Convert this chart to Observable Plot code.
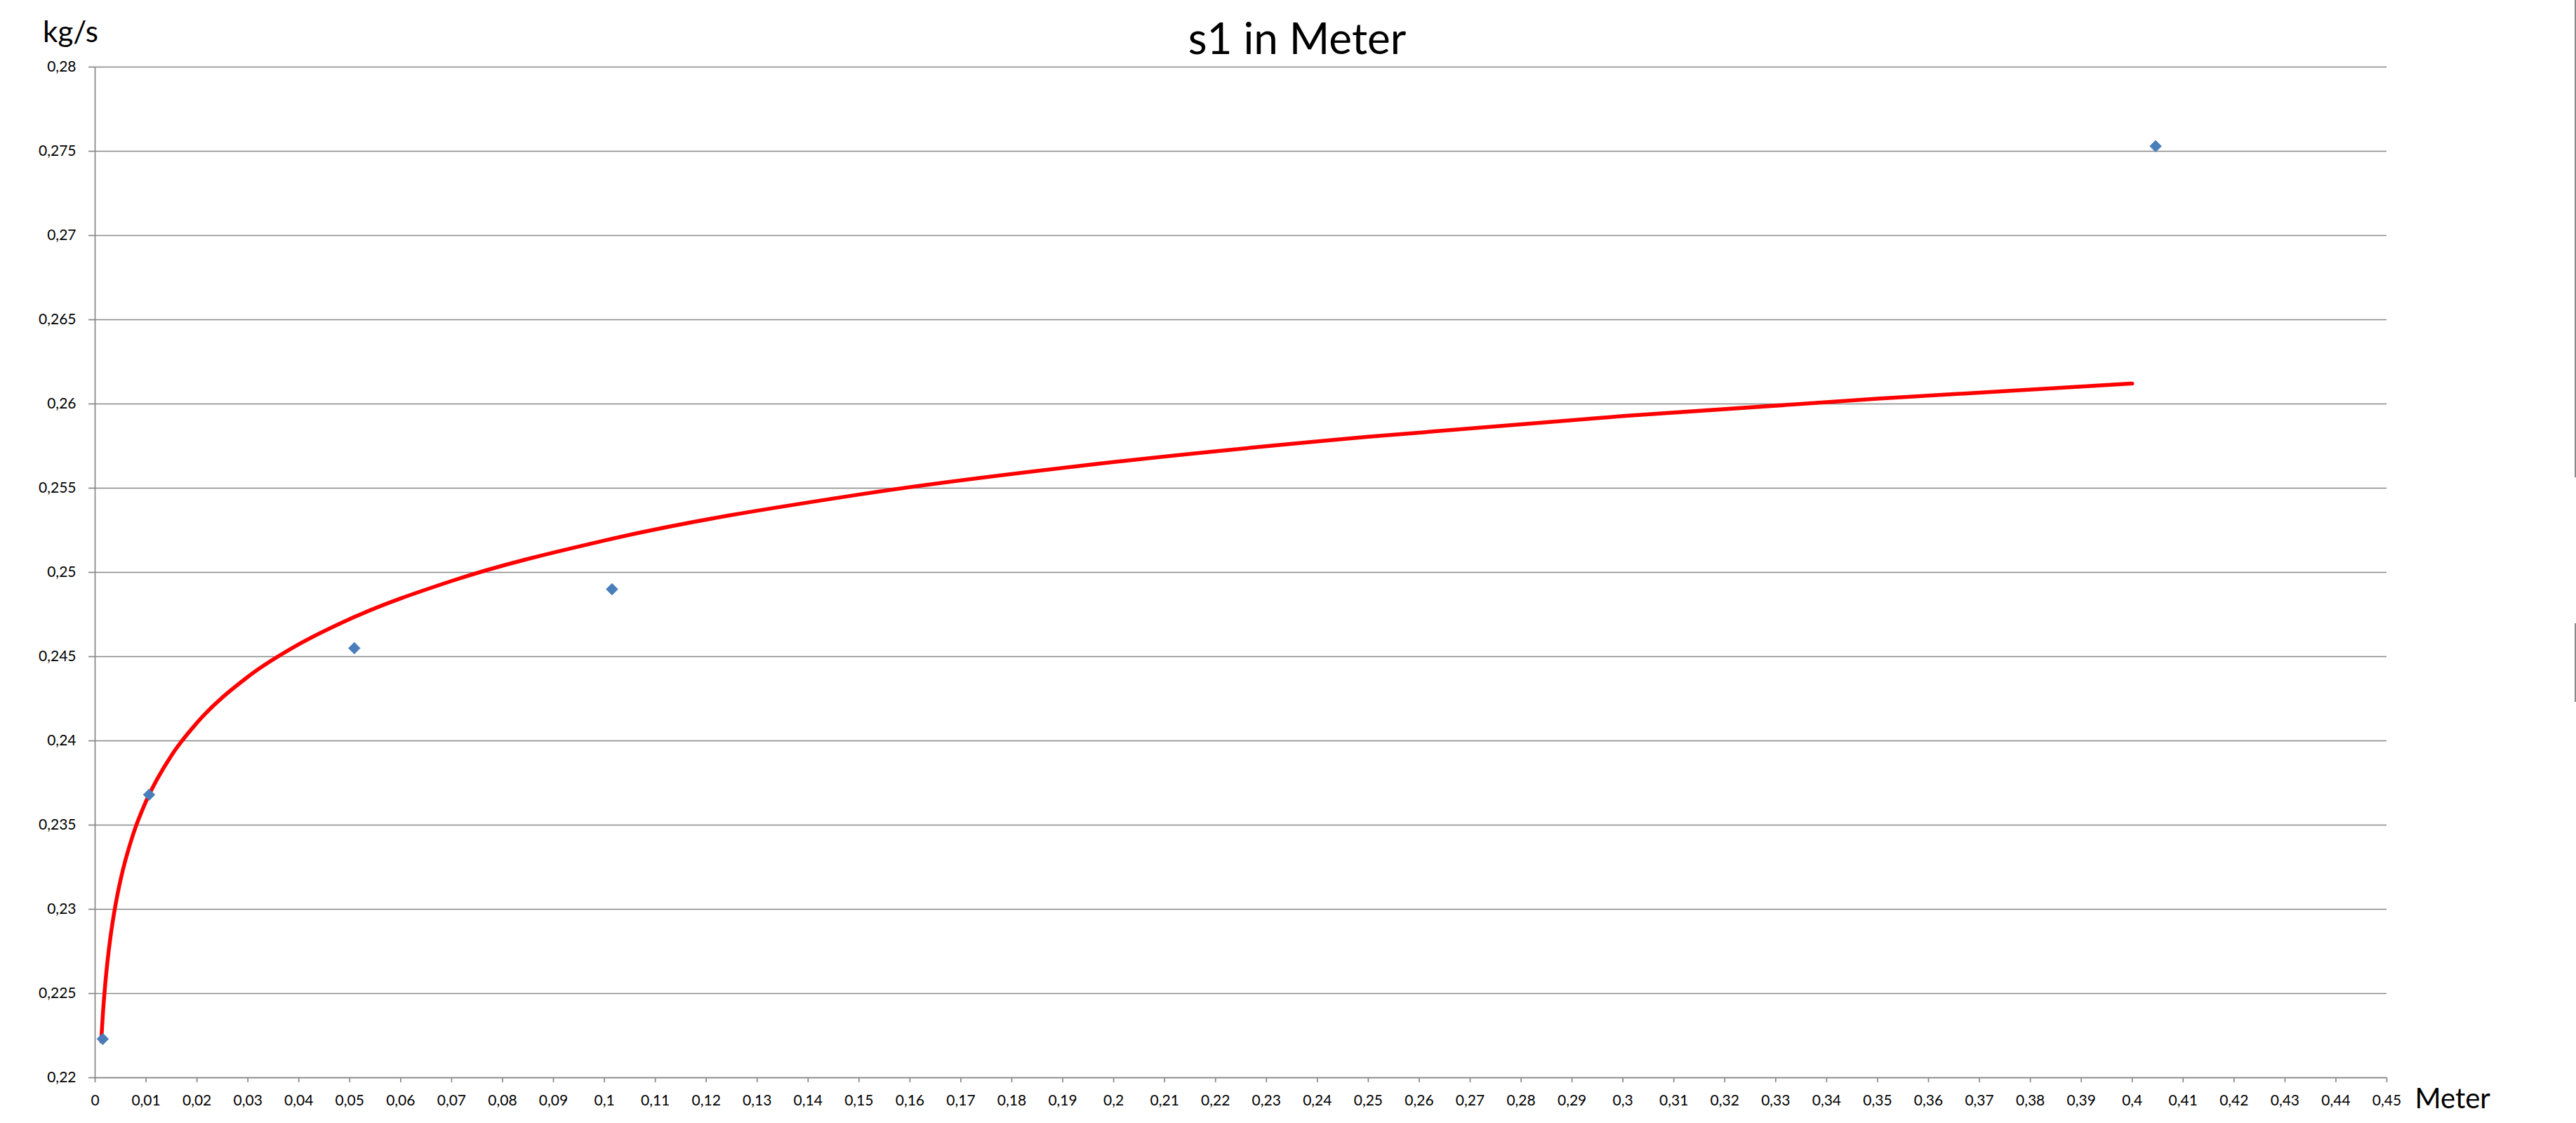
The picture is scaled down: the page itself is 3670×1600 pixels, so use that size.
<!DOCTYPE html>
<html>
<head>
<meta charset="utf-8">
<script src="https://cdn.jsdelivr.net/npm/d3@7"></script>
<script src="https://cdn.jsdelivr.net/npm/@observablehq/plot@0.6"></script>
<style>
  html, body { margin: 0; padding: 0; background: #ffffff; overflow: hidden; }
  #wrap { position: relative; width: 3670px; height: 1600px; }
  .edge { position: absolute; left: 3668px; width: 2px; background: #8a8a8a; }
</style>
</head>
<body>
<div id="wrap">
  <div id="chart"></div>
  <div class="edge" style="top:0px;height:680px"></div>
  <div class="edge" style="top:888px;height:112px"></div>
</div>
<script>
// ---- Data ----
const title = "s1 in Meter";
const yLabel = "kg/s";
const xLabel = "Meter";

// measured points (blue diamonds)
const pointX = [0.0015, 0.0106, 0.0509, 0.1015, 0.4046];
const pointY = [0.2223, 0.2368, 0.2455, 0.2490, 0.2753];

// red trend curve
const trendX = [0.0012, 0.0015, 0.002, 0.0025, 0.003, 0.004, 0.005, 0.0075, 0.01, 0.015, 0.02, 0.03, 0.04, 0.05, 0.07, 0.1, 0.15, 0.2, 0.25, 0.3, 0.35, 0.4];
const trendY = [0.22216, 0.22366, 0.22559, 0.22709, 0.22832, 0.23025, 0.23175, 0.23448, 0.23641, 0.23914, 0.24107, 0.24380, 0.24573, 0.24723, 0.24949, 0.25189, 0.25462, 0.25655, 0.25805, 0.25928, 0.26031, 0.26121];

// tick values
const xTicks = [0, 0.01, 0.02, 0.03, 0.04, 0.05, 0.06, 0.07, 0.08, 0.09, 0.1, 0.11, 0.12, 0.13, 0.14, 0.15, 0.16, 0.17, 0.18, 0.19, 0.2, 0.21, 0.22, 0.23, 0.24, 0.25, 0.26, 0.27, 0.28, 0.29, 0.3, 0.31, 0.32, 0.33, 0.34, 0.35, 0.36, 0.37, 0.38, 0.39, 0.4, 0.41, 0.42, 0.43, 0.44, 0.45];
const yTicks = [0.22, 0.225, 0.23, 0.235, 0.24, 0.245, 0.25, 0.255, 0.26, 0.265, 0.27, 0.275, 0.28];

// ---- Build ----
const points = pointX.map((x, i) => ({x, y: pointY[i]}));
const trend = trendX.map((x, i) => ({x, y: trendY[i]}));
const fmt = (d, n) => String(+d.toFixed(n)).replace(".", ",");
const gridColor = "#878787";

const chart = Plot.plot({
  width: 3670,
  height: 1600,
  marginLeft: 135,
  marginRight: 270,
  marginTop: 95,
  marginBottom: 65,
  style: {fontFamily: "Lato, 'Open Sans', sans-serif", background: "#ffffff", color: "#000000"},
  x: {domain: [0, 0.45]},
  y: {domain: [0.22, 0.28]},
  marks: [
    Plot.gridY(yTicks, {stroke: gridColor, strokeOpacity: 1, strokeWidth: 1.7}),
    Plot.ruleX([0], {stroke: gridColor, strokeWidth: 1.7}),
    Plot.ruleY([0.22], {stroke: gridColor, strokeWidth: 1.7}),
    Plot.axisY(yTicks, {
      tickSize: 9, tickPadding: 18, stroke: gridColor, strokeWidth: 1.7,
      tickFormat: d => fmt(d, 3), fontSize: 21, fill: "#000000", label: null
    }),
    Plot.axisX(xTicks, {
      tickSize: 7, tickPadding: 18, stroke: gridColor, strokeWidth: 1.7,
      tickFormat: d => fmt(d, 2), fontSize: 21, fill: "#000000", label: null
    }),
    Plot.line(trend, {x: "x", y: "y", stroke: "#ff0000", strokeWidth: 5.5, curve: "monotone-x", strokeLinecap: "round"}),
    Plot.dot(points, {x: "x", y: "y", symbol: "diamond2", r: 7.4, fill: "#4a7ebb", stroke: "#4a7ebb", strokeWidth: 1, strokeLinejoin: "round"}),
    Plot.text([title], {text: d => d, frameAnchor: "top", textAnchor: "middle", lineAnchor: "bottom", dx: 80, dy: -19, fontSize: 62, fill: "#000000"}),
    Plot.text([yLabel], {text: d => d, frameAnchor: "top-left", textAnchor: "middle", lineAnchor: "bottom", dx: -35, dy: -36, fontSize: 42, fill: "#000000"}),
    Plot.text([xLabel], {text: d => d, frameAnchor: "bottom-right", textAnchor: "start", lineAnchor: "bottom", dx: 40, dy: 43, fontSize: 40, fill: "#000000"})
  ]
});
document.getElementById("chart").appendChild(chart);
</script>
</body>
</html>
